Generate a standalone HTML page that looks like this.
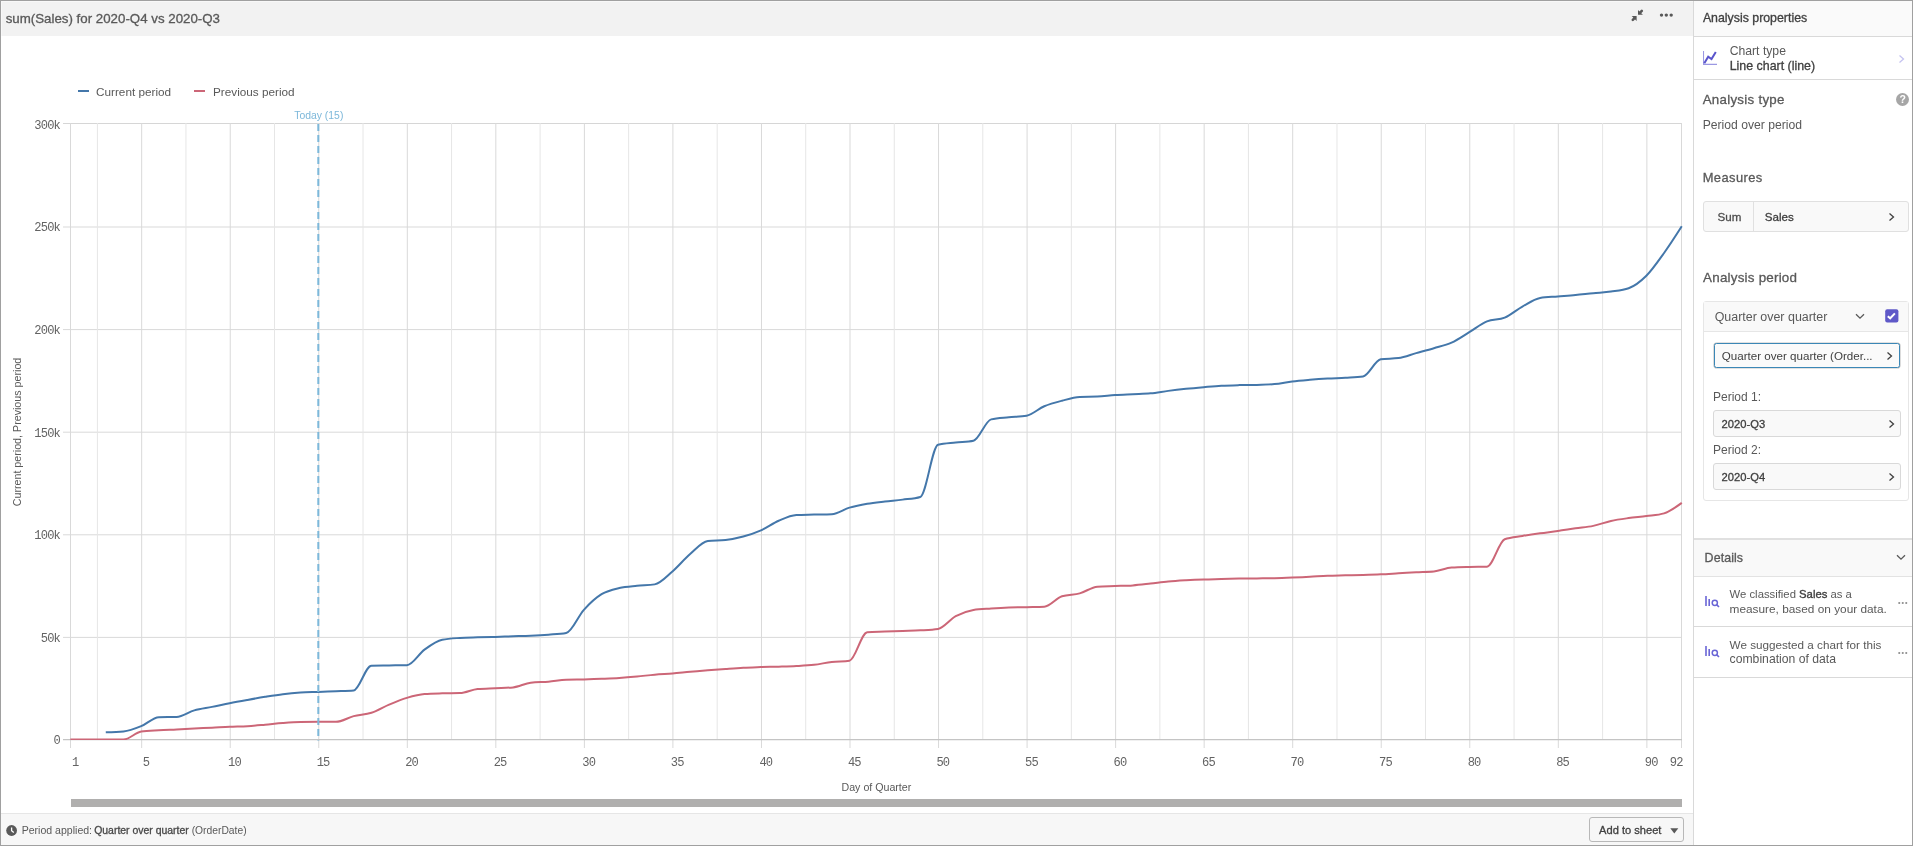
<!DOCTYPE html>
<html><head><meta charset="utf-8"><style>
*{box-sizing:border-box}
html,body{margin:0;padding:0;width:1913px;height:846px;overflow:hidden;background:#fff;font-family:"Liberation Sans",sans-serif;color:#595959}
.abs{position:absolute}
.frame{position:absolute;left:0;top:0;width:1913px;height:846px;border:1px solid #a0a0a0}
.ax{font-family:"Liberation Mono",monospace;font-size:12.1px;letter-spacing:-0.85px;fill:#636363}
.lg{font-family:"Liberation Sans",sans-serif;font-size:11.75px;fill:#595959}
.t{position:absolute;white-space:nowrap;line-height:1}
</style></head><body>
<div id="root" style="position:absolute;left:0;top:0;width:1913px;height:846px;will-change:transform;background:#fff">
<div class="abs" style="left:1px;top:1px;width:1692px;height:35px;background:#f2f2f2;box-shadow:inset 1px 1px 0 #f8f8f8"></div>
<div class="t" style="left:5.7px;top:11px;font-size:13.3px;line-height:15px;-webkit-text-stroke:0.3px currentColor;">sum(Sales) for 2020-Q4 vs 2020-Q3</div>
<svg class="abs" style="left:1628px;top:6px" width="20" height="18" viewBox="0 0 20 18"><path d="M10 3.9 L10 8.8 L14.9 8.8 Z" fill="#595959"/><path d="M11.8 6.9 L13.8 4.9" stroke="#595959" stroke-width="2.6" stroke-linecap="round"/><path d="M3.7 10 L8.6 10 L8.6 14.9 Z" fill="#595959"/><path d="M6.8 11.8 L4.8 13.8" stroke="#595959" stroke-width="2.6" stroke-linecap="round"/></svg><svg class="abs" style="left:1658px;top:12px" width="16" height="6" viewBox="0 0 16 6"><circle cx="3.5" cy="3.1" r="1.7" fill="#595959"/><circle cx="8.3" cy="3.1" r="1.7" fill="#595959"/><circle cx="13.2" cy="3.1" r="1.7" fill="#595959"/></svg>
<svg class="abs" style="left:0;top:0" width="1913" height="846" viewBox="0 0 1913 846">
<line x1="63" y1="637.40" x2="1682" y2="637.40" stroke="#d9d9d9"/>
<line x1="63" y1="534.80" x2="1682" y2="534.80" stroke="#d9d9d9"/>
<line x1="63" y1="432.20" x2="1682" y2="432.20" stroke="#d9d9d9"/>
<line x1="63" y1="329.60" x2="1682" y2="329.60" stroke="#d9d9d9"/>
<line x1="63" y1="227.00" x2="1682" y2="227.00" stroke="#d9d9d9"/>
<line x1="63" y1="123.50" x2="1682" y2="123.50" stroke="#d6d6d6"/>
<line x1="97.41" y1="123" x2="97.41" y2="739" stroke="#e6e6e6"/>
<line x1="185.95" y1="123" x2="185.95" y2="739" stroke="#e6e6e6"/>
<line x1="274.49" y1="123" x2="274.49" y2="739" stroke="#e6e6e6"/>
<line x1="363.03" y1="123" x2="363.03" y2="739" stroke="#e6e6e6"/>
<line x1="451.57" y1="123" x2="451.57" y2="739" stroke="#e6e6e6"/>
<line x1="540.11" y1="123" x2="540.11" y2="739" stroke="#e6e6e6"/>
<line x1="628.65" y1="123" x2="628.65" y2="739" stroke="#e6e6e6"/>
<line x1="717.19" y1="123" x2="717.19" y2="739" stroke="#e6e6e6"/>
<line x1="805.73" y1="123" x2="805.73" y2="739" stroke="#e6e6e6"/>
<line x1="894.27" y1="123" x2="894.27" y2="739" stroke="#e6e6e6"/>
<line x1="982.81" y1="123" x2="982.81" y2="739" stroke="#e6e6e6"/>
<line x1="1071.35" y1="123" x2="1071.35" y2="739" stroke="#e6e6e6"/>
<line x1="1159.89" y1="123" x2="1159.89" y2="739" stroke="#e6e6e6"/>
<line x1="1248.43" y1="123" x2="1248.43" y2="739" stroke="#e6e6e6"/>
<line x1="1336.97" y1="123" x2="1336.97" y2="739" stroke="#e6e6e6"/>
<line x1="1425.51" y1="123" x2="1425.51" y2="739" stroke="#e6e6e6"/>
<line x1="1514.05" y1="123" x2="1514.05" y2="739" stroke="#e6e6e6"/>
<line x1="1602.59" y1="123" x2="1602.59" y2="739" stroke="#e6e6e6"/>
<line x1="70.50" y1="123" x2="70.50" y2="748" stroke="#d9d9d9"/>
<line x1="141.68" y1="123" x2="141.68" y2="748" stroke="#d9d9d9"/>
<line x1="230.22" y1="123" x2="230.22" y2="748" stroke="#d9d9d9"/>
<line x1="318.76" y1="123" x2="318.76" y2="748" stroke="#d9d9d9"/>
<line x1="407.30" y1="123" x2="407.30" y2="748" stroke="#d9d9d9"/>
<line x1="495.84" y1="123" x2="495.84" y2="748" stroke="#d9d9d9"/>
<line x1="584.38" y1="123" x2="584.38" y2="748" stroke="#d9d9d9"/>
<line x1="672.92" y1="123" x2="672.92" y2="748" stroke="#d9d9d9"/>
<line x1="761.46" y1="123" x2="761.46" y2="748" stroke="#d9d9d9"/>
<line x1="850.00" y1="123" x2="850.00" y2="748" stroke="#d9d9d9"/>
<line x1="938.54" y1="123" x2="938.54" y2="748" stroke="#d9d9d9"/>
<line x1="1027.08" y1="123" x2="1027.08" y2="748" stroke="#d9d9d9"/>
<line x1="1115.62" y1="123" x2="1115.62" y2="748" stroke="#d9d9d9"/>
<line x1="1204.16" y1="123" x2="1204.16" y2="748" stroke="#d9d9d9"/>
<line x1="1292.70" y1="123" x2="1292.70" y2="748" stroke="#d9d9d9"/>
<line x1="1381.24" y1="123" x2="1381.24" y2="748" stroke="#d9d9d9"/>
<line x1="1469.78" y1="123" x2="1469.78" y2="748" stroke="#d9d9d9"/>
<line x1="1558.32" y1="123" x2="1558.32" y2="748" stroke="#d9d9d9"/>
<line x1="1646.86" y1="123" x2="1646.86" y2="748" stroke="#d9d9d9"/>
<line x1="1681.50" y1="123" x2="1681.50" y2="748" stroke="#d9d9d9"/>
<line x1="63" y1="739.6" x2="1682" y2="739.6" stroke="#c4c4c4" stroke-width="1.2"/>
<clipPath id="pc"><rect x="60" y="100" width="1630" height="640"/></clipPath>
<g clip-path="url(#pc)"><path d="M70.35,739.50C76.25,739.50,82.16,739.50,88.06,739.50C93.96,739.50,99.86,739.50,105.77,739.50C111.67,739.50,117.57,739.50,123.47,739.50C129.38,739.50,135.28,732.49,141.18,731.60C147.08,730.71,152.99,730.63,158.89,730.27C164.79,729.91,170.70,729.74,176.60,729.45C182.50,729.15,188.40,728.81,194.31,728.52C200.21,728.23,206.11,727.99,212.01,727.70C217.92,727.41,223.82,727.03,229.72,726.78C235.62,726.52,241.53,726.50,247.43,726.16C253.33,725.82,259.24,725.24,265.14,724.73C271.04,724.21,276.94,723.53,282.85,723.08C288.75,722.64,294.65,722.19,300.55,722.06C306.46,721.92,312.36,721.85,318.26,721.85C324.16,721.85,330.07,721.85,335.97,721.85C341.87,721.85,347.78,717.61,353.68,716.11C359.58,714.60,365.48,714.74,371.39,712.82C377.29,710.91,383.19,707.11,389.09,704.62C395.00,702.12,400.90,699.62,406.80,697.84C412.70,696.07,418.61,694.36,424.51,693.95C430.41,693.54,436.32,693.47,442.22,693.33C448.12,693.19,454.02,693.26,459.93,693.12C465.83,692.99,471.73,689.57,477.63,689.02C483.54,688.47,489.44,688.47,495.34,688.20C501.24,687.93,507.15,687.93,513.05,687.38C518.95,686.83,524.86,683.34,530.76,682.66C536.66,681.98,542.56,682.11,548.47,681.63C554.37,681.15,560.27,680.06,566.17,679.79C572.08,679.51,577.98,679.55,583.88,679.38C589.78,679.21,595.69,679.00,601.59,678.76C607.49,678.52,613.40,678.32,619.30,677.94C625.20,677.56,631.10,677.05,637.01,676.50C642.91,675.96,648.81,675.17,654.71,674.66C660.62,674.14,666.52,673.90,672.42,673.43C678.32,672.95,684.23,672.30,690.13,671.78C696.03,671.27,701.94,670.83,707.84,670.35C713.74,669.87,719.64,669.36,725.55,668.91C731.45,668.47,737.35,667.99,743.25,667.68C749.16,667.37,755.06,667.24,760.96,667.06C766.86,666.89,772.77,666.83,778.67,666.65C784.57,666.48,790.48,666.35,796.38,666.04C802.28,665.73,808.18,665.49,814.09,664.81C819.99,664.12,825.89,662.62,831.79,661.93C837.70,661.25,843.60,661.52,849.50,660.70C855.40,659.88,861.31,632.59,867.21,632.18C873.11,631.77,879.02,631.77,884.92,631.56C890.82,631.36,896.72,631.15,902.63,630.95C908.53,630.74,914.43,630.68,920.33,630.33C926.24,629.99,932.14,629.85,938.04,628.90C943.94,627.94,949.85,619.32,955.75,616.17C961.65,613.03,967.56,610.98,973.46,610.02C979.36,609.06,985.26,608.99,991.17,608.58C997.07,608.17,1002.97,607.80,1008.87,607.56C1014.78,607.32,1020.68,607.28,1026.58,607.15C1032.48,607.01,1038.39,607.01,1044.29,606.74C1050.19,606.46,1056.10,598.19,1062.00,596.27C1067.90,594.36,1073.80,595.00,1079.71,593.40C1085.61,591.79,1091.51,587.04,1097.41,586.63C1103.32,586.22,1109.22,586.22,1115.12,586.01C1121.02,585.81,1126.93,585.81,1132.83,585.39C1138.73,584.98,1144.64,584.20,1150.54,583.55C1156.44,582.90,1162.34,582.04,1168.25,581.50C1174.15,580.95,1180.05,580.61,1185.95,580.26C1191.86,579.92,1197.76,579.65,1203.66,579.44C1209.56,579.24,1215.47,579.17,1221.37,579.03C1227.27,578.90,1233.18,578.73,1239.08,578.62C1244.98,578.52,1250.88,578.49,1256.79,578.42C1262.69,578.35,1268.59,578.35,1274.49,578.21C1280.40,578.08,1286.30,577.84,1292.20,577.60C1298.10,577.36,1304.01,577.08,1309.91,576.78C1315.81,576.47,1321.72,575.99,1327.62,575.75C1333.52,575.51,1339.42,575.48,1345.33,575.34C1351.23,575.20,1357.13,575.10,1363.03,574.93C1368.94,574.76,1374.84,574.59,1380.74,574.31C1386.64,574.04,1392.55,573.63,1398.45,573.29C1404.35,572.95,1410.26,572.57,1416.16,572.26C1422.06,571.95,1427.96,571.99,1433.87,571.44C1439.77,570.89,1445.67,567.95,1451.57,567.54C1457.48,567.13,1463.38,567.06,1469.28,566.93C1475.18,566.79,1481.09,566.86,1486.99,566.72C1492.89,566.58,1498.80,541.41,1504.70,539.22C1510.60,537.04,1516.50,536.93,1522.41,535.94C1528.31,534.95,1534.21,534.09,1540.11,533.27C1546.02,532.45,1551.92,531.84,1557.82,531.02C1563.72,530.20,1569.63,529.20,1575.53,528.35C1581.43,527.49,1587.34,527.12,1593.24,525.89C1599.14,524.66,1605.04,522.26,1610.95,520.96C1616.85,519.66,1622.75,518.91,1628.65,518.09C1634.56,517.27,1640.46,516.82,1646.36,516.04C1652.26,515.25,1658.17,515.15,1664.07,513.37C1669.97,511.59,1675.88,507.25,1681.78,502.90" fill="none" stroke="#cc6677" stroke-width="2" stroke-linejoin="round"/>
<path d="M105.77,732.32C111.67,732.18,117.57,732.04,123.47,731.50C129.38,730.95,135.28,728.56,141.18,726.16C147.08,723.77,152.99,717.27,158.89,717.13C164.79,717.00,170.70,717.06,176.60,716.93C182.50,716.79,188.40,712.04,194.31,710.36C200.21,708.69,206.11,708.07,212.01,706.87C217.92,705.68,223.82,704.34,229.72,703.18C235.62,702.02,241.53,700.96,247.43,699.90C253.33,698.84,259.24,697.78,265.14,696.82C271.04,695.86,276.94,694.87,282.85,694.15C288.75,693.43,294.65,692.89,300.55,692.51C306.46,692.13,312.36,692.10,318.26,691.89C324.16,691.69,330.07,691.52,335.97,691.28C341.87,691.04,347.78,691.00,353.68,690.46C359.58,689.91,365.48,665.76,371.39,665.63C377.29,665.49,383.19,665.49,389.09,665.42C395.00,665.35,400.90,665.35,406.80,665.22C412.70,665.08,418.61,653.86,424.51,649.62C430.41,645.38,436.32,641.00,442.22,639.77C448.12,638.54,454.02,638.34,459.93,637.93C465.83,637.52,471.73,637.48,477.63,637.31C483.54,637.14,489.44,637.07,495.34,636.90C501.24,636.73,507.15,636.49,513.05,636.28C518.95,636.08,524.86,635.94,530.76,635.67C536.66,635.40,542.56,635.09,548.47,634.64C554.37,634.20,560.27,634.10,566.17,633.00C572.08,631.91,577.98,616.28,583.88,609.81C589.78,603.35,595.69,597.84,601.59,594.22C607.49,590.59,613.40,589.46,619.30,588.06C625.20,586.66,631.10,586.42,637.01,585.81C642.91,585.19,648.81,585.33,654.71,584.37C660.62,583.41,666.52,576.50,672.42,571.44C678.32,566.38,684.23,559.06,690.13,554.00C696.03,548.94,701.94,541.76,707.84,541.07C713.74,540.39,719.64,540.73,725.55,540.05C731.45,539.36,737.35,538.16,743.25,536.56C749.16,534.95,755.06,533.03,760.96,530.40C766.86,527.77,772.77,523.32,778.67,520.76C784.57,518.19,790.48,515.28,796.38,515.01C802.28,514.74,808.18,514.74,814.09,514.60C819.99,514.46,825.89,514.46,831.79,514.19C837.70,513.92,843.60,509.37,849.50,507.62C855.40,505.88,861.31,504.75,867.21,503.73C873.11,502.70,879.02,502.15,884.92,501.47C890.82,500.78,896.72,500.37,902.63,499.62C908.53,498.87,914.43,498.73,920.33,496.95C926.24,495.18,932.14,446.34,938.04,444.83C943.94,443.33,949.85,443.26,955.75,442.58C961.65,441.89,967.56,441.96,973.46,440.73C979.36,439.50,985.26,420.76,991.17,419.39C997.07,418.02,1002.97,417.95,1008.87,417.34C1014.78,416.72,1020.68,416.79,1026.58,415.69C1032.48,414.60,1038.39,408.75,1044.29,406.26C1050.19,403.76,1056.10,402.25,1062.00,400.71C1067.90,399.18,1073.80,397.29,1079.71,397.02C1085.61,396.75,1091.51,396.88,1097.41,396.61C1103.32,396.34,1109.22,395.38,1115.12,394.97C1121.02,394.56,1126.93,394.42,1132.83,394.15C1138.73,393.87,1144.64,393.87,1150.54,393.33C1156.44,392.78,1162.34,391.62,1168.25,390.87C1174.15,390.11,1180.05,389.43,1185.95,388.81C1191.86,388.20,1197.76,387.68,1203.66,387.17C1209.56,386.66,1215.47,386.08,1221.37,385.74C1227.27,385.39,1233.18,385.26,1239.08,385.12C1244.98,384.98,1250.88,385.05,1256.79,384.91C1262.69,384.78,1268.59,384.64,1274.49,384.09C1280.40,383.55,1286.30,382.14,1292.20,381.43C1298.10,380.71,1304.01,380.26,1309.91,379.78C1315.81,379.31,1321.72,378.90,1327.62,378.55C1333.52,378.21,1339.42,378.07,1345.33,377.73C1351.23,377.39,1357.13,377.32,1363.03,376.50C1368.94,375.68,1374.84,360.09,1380.74,359.26C1386.64,358.44,1392.55,358.85,1398.45,358.03C1404.35,357.21,1410.26,354.75,1416.16,353.11C1422.06,351.47,1427.96,349.93,1433.87,348.18C1439.77,346.44,1445.67,345.31,1451.57,342.64C1457.48,339.98,1463.38,335.73,1469.28,332.18C1475.18,328.62,1481.09,323.73,1486.99,321.30C1492.89,318.87,1498.80,320.07,1504.70,317.61C1510.60,315.15,1516.50,309.81,1522.41,306.53C1528.31,303.24,1534.21,298.87,1540.11,297.91C1546.02,296.95,1551.92,296.95,1557.82,296.47C1563.72,295.99,1569.63,295.58,1575.53,295.04C1581.43,294.49,1587.34,293.77,1593.24,293.19C1599.14,292.61,1605.04,292.37,1610.95,291.55C1616.85,290.73,1622.75,290.45,1628.65,288.27C1634.56,286.08,1640.46,281.63,1646.36,275.75C1652.26,269.87,1658.17,261.21,1664.07,252.97C1669.97,244.73,1675.88,235.51,1681.78,226.29" fill="none" stroke="#4477aa" stroke-width="2" stroke-linejoin="round"/></g>
<line x1="318.3" y1="124" x2="318.3" y2="740.5" stroke="#7db8da" stroke-width="2" stroke-dasharray="7 4"/>
<text x="60" y="744.4" text-anchor="end" class="ax">0</text>
<text x="60" y="641.8" text-anchor="end" class="ax">50k</text>
<text x="60" y="539.2" text-anchor="end" class="ax">100k</text>
<text x="60" y="436.6" text-anchor="end" class="ax">150k</text>
<text x="60" y="334.0" text-anchor="end" class="ax">200k</text>
<text x="60" y="231.4" text-anchor="end" class="ax">250k</text>
<text x="60" y="128.8" text-anchor="end" class="ax">300k</text>
<text x="75.1" y="765.8" text-anchor="middle" class="ax">1</text>
<text x="146.0" y="765.8" text-anchor="middle" class="ax">5</text>
<text x="234.5" y="765.8" text-anchor="middle" class="ax">10</text>
<text x="323.1" y="765.8" text-anchor="middle" class="ax">15</text>
<text x="411.6" y="765.8" text-anchor="middle" class="ax">20</text>
<text x="500.1" y="765.8" text-anchor="middle" class="ax">25</text>
<text x="588.7" y="765.8" text-anchor="middle" class="ax">30</text>
<text x="677.2" y="765.8" text-anchor="middle" class="ax">35</text>
<text x="765.8" y="765.8" text-anchor="middle" class="ax">40</text>
<text x="854.3" y="765.8" text-anchor="middle" class="ax">45</text>
<text x="942.8" y="765.8" text-anchor="middle" class="ax">50</text>
<text x="1031.4" y="765.8" text-anchor="middle" class="ax">55</text>
<text x="1119.9" y="765.8" text-anchor="middle" class="ax">60</text>
<text x="1208.5" y="765.8" text-anchor="middle" class="ax">65</text>
<text x="1297.0" y="765.8" text-anchor="middle" class="ax">70</text>
<text x="1385.5" y="765.8" text-anchor="middle" class="ax">75</text>
<text x="1474.1" y="765.8" text-anchor="middle" class="ax">80</text>
<text x="1562.6" y="765.8" text-anchor="middle" class="ax">85</text>
<text x="1651.2" y="765.8" text-anchor="middle" class="ax">90</text>
<text x="1682.6" y="765.8" text-anchor="end" class="ax">92</text>
<rect x="78" y="90" width="11" height="2" fill="#4477aa"/>
<rect x="194" y="90" width="11" height="2" fill="#cc6677"/>
<text x="96" y="96" class="lg">Current period</text>
<text x="213" y="96" class="lg">Previous period</text>
<text x="318.8" y="119.2" text-anchor="middle" class="lg" style="fill:#7db8da;font-size:10.4px">Today (15)</text>
<text x="876.4" y="790.6" text-anchor="middle" class="lg" style="font-size:10.65px">Day of Quarter</text>
<text transform="translate(21,432) rotate(-90)" text-anchor="middle" class="lg" style="font-size:10.7px">Current period, Previous period</text>
</svg>
<div class="abs" style="left:71px;top:799px;width:1611px;height:8px;background:#b0afae"></div>
<div class="abs" style="left:1px;top:813px;width:1692px;height:32px;background:#f7f7f7;border-top:1px solid #e6e6e6"></div>
<svg class="abs" style="left:6px;top:825px" width="12" height="12" viewBox="0 0 12 12"><circle cx="5.6" cy="5.5" r="5.4" fill="#595959"/><path d="M5.6 2.4 V5.8 L7.8 7.6" fill="none" stroke="#fff" stroke-width="1.3"/></svg><div class="t" style="left:21.7px;top:824px;font-size:10.55px;line-height:12px;">Period applied:</div><div class="t" style="left:94.2px;top:825px;font-size:10.45px;line-height:11px;-webkit-text-stroke:0.3px currentColor;color:#484848;">Quarter over quarter <span style="-webkit-text-stroke:0;color:#595959;font-size:10.3px">(OrderDate)</span></div><div class="abs" style="left:1589px;top:817px;width:95px;height:25px;background:#f7f7f7;border:1px solid #b8b8b8;border-radius:3px"></div><div class="t" style="left:1599.1px;top:824px;font-size:11.1px;line-height:12px;-webkit-text-stroke:0.3px currentColor;color:#404040;">Add to sheet</div><svg class="abs" style="left:1669.5px;top:827.5px" width="9" height="6" viewBox="0 0 9 6"><path d="M0.3 0.3 H8.3 L4.3 5.5 Z" fill="#595959"/></svg>
<div class="abs" style="left:1693px;top:1px;width:1px;height:844px;background:#d9d9d9"></div>
<div class="abs" style="left:1694px;top:1px;width:218px;height:36px;background:#fafafa;border-bottom:1px solid #d9d9d9"></div><div class="t" style="left:1702.9px;top:11px;font-size:12.35px;line-height:14px;-webkit-text-stroke:0.3px currentColor;color:#404040;">Analysis properties</div><div class="abs" style="left:1694px;top:79px;width:218px;height:1px;background:#d9d9d9"></div><svg class="abs" style="left:1703px;top:50px" width="16" height="16" viewBox="0 0 16 16"><path d="M0.5 1 V14.4 H14" fill="none" stroke="#9b98e2" stroke-width="1.1"/><path d="M1.3 13.2 L5.2 6.7 L8.5 9.1 L12.8 1.9" fill="none" stroke="#5a55cc" stroke-width="2" stroke-linejoin="miter"/></svg><div class="t" style="left:1729.7px;top:44px;font-size:12.2px;line-height:14px;">Chart type</div><div class="t" style="left:1729.7px;top:59px;font-size:12.4px;line-height:14px;-webkit-text-stroke:0.3px currentColor;color:#404040;">Line chart (line)</div><svg class="abs" style="left:1898px;top:54px" width="8" height="10" viewBox="0 0 8 10"><path d="M1.5 1.5 L5.5 5 L1.5 8.5" fill="none" stroke="#c5c3f0" stroke-width="1.3"/></svg><div class="t" style="left:1702.7px;top:92px;font-size:13.3px;line-height:15px;-webkit-text-stroke:0.3px currentColor;letter-spacing:0.28px;">Analysis type</div><div class="abs" style="left:1896.1px;top:93px;width:13.2px;height:13.2px;border-radius:50%;background:#a6a6a6;color:#fff;font-size:10.5px;font-weight:bold;line-height:13px;text-align:center">?</div><div class="t" style="left:1702.7px;top:118px;font-size:12.15px;line-height:14px;">Period over period</div><div class="t" style="left:1702.7px;top:170px;font-size:12.9px;line-height:15px;-webkit-text-stroke:0.3px currentColor;letter-spacing:0.42px;">Measures</div><div class="abs" style="left:1703px;top:201px;width:206px;height:31px;background:#f9f9f9;border:1px solid #e0e0e0;border-radius:3px"></div><div class="abs" style="left:1753px;top:202px;width:1px;height:29px;background:#e0e0e0"></div><div class="t" style="left:1717.5px;top:211px;font-size:11.6px;line-height:12px;-webkit-text-stroke:0.3px currentColor;color:#4d4d4d;">Sum</div><div class="t" style="left:1764.8px;top:211px;font-size:11.6px;line-height:12px;-webkit-text-stroke:0.3px currentColor;color:#404040;">Sales</div><svg class="abs" style="left:1888px;top:212px" width="8" height="10" viewBox="0 0 8 10"><path d="M1.5 1.5 L5.5 5 L1.5 8.5" fill="none" stroke="#404040" stroke-width="1.3"/></svg><div class="t" style="left:1703.1px;top:270px;font-size:13.4px;line-height:15px;-webkit-text-stroke:0.3px currentColor;letter-spacing:0.22px;">Analysis period</div><div class="abs" style="left:1703px;top:301px;width:206px;height:200px;border:1px solid #e6e6e6;border-radius:3px"></div><div class="abs" style="left:1704px;top:302px;width:204px;height:30px;background:#f9f9f9;border-bottom:1px solid #e6e6e6"></div><div class="t" style="left:1714.7px;top:310px;font-size:12.45px;line-height:14px;">Quarter over quarter</div><svg class="abs" style="left:1855.4px;top:312.6px" width="10" height="7" viewBox="0 0 10 7"><path d="M1 1.2 L5 5.2 L9 1.2" fill="none" stroke="#595959" stroke-width="1.3"/></svg><svg class="abs" style="left:1885px;top:309px" width="14" height="14" viewBox="0 0 14 14"><rect x="0.2" y="0.2" width="13.2" height="13.2" rx="2" fill="#5f59c8"/><path d="M2.8 7.2 L5.2 9.3 L9.9 4.4" fill="none" stroke="#fff" stroke-width="2"/></svg><div class="abs" style="left:1714px;top:343px;width:186px;height:25px;background:#fafafa;border:1px solid #3b87b6;border-radius:2.5px;box-shadow:0 0 0 0.6px #c4c4c4"></div><div class="t" style="left:1721.8px;top:350px;font-size:11.6px;line-height:12px;color:#404040;">Quarter over quarter (Order...</div><svg class="abs" style="left:1886px;top:351px" width="8" height="10" viewBox="0 0 8 10"><path d="M1.5 1.5 L5.5 5 L1.5 8.5" fill="none" stroke="#404040" stroke-width="1.3"/></svg><div class="t" style="left:1713.0px;top:390px;font-size:12.0px;line-height:14px;">Period 1:</div><div class="abs" style="left:1713px;top:410px;width:188px;height:27px;background:#f9f9f9;border:1px solid #d9d9d9;border-radius:3px"></div><div class="t" style="left:1721.6px;top:418px;font-size:11.2px;line-height:12px;-webkit-text-stroke:0.3px currentColor;color:#404040;">2020-Q3</div><svg class="abs" style="left:1888px;top:419px" width="8" height="10" viewBox="0 0 8 10"><path d="M1.5 1.5 L5.5 5 L1.5 8.5" fill="none" stroke="#404040" stroke-width="1.3"/></svg><div class="t" style="left:1713.0px;top:443px;font-size:12.0px;line-height:14px;">Period 2:</div><div class="abs" style="left:1713px;top:463px;width:188px;height:27px;background:#f9f9f9;border:1px solid #d9d9d9;border-radius:3px"></div><div class="t" style="left:1721.6px;top:471px;font-size:11.2px;line-height:12px;-webkit-text-stroke:0.3px currentColor;color:#404040;">2020-Q4</div><svg class="abs" style="left:1888px;top:472px" width="8" height="10" viewBox="0 0 8 10"><path d="M1.5 1.5 L5.5 5 L1.5 8.5" fill="none" stroke="#404040" stroke-width="1.3"/></svg><div class="abs" style="left:1694px;top:538px;width:218px;height:39px;background:#f9f9f9;border-top:2px solid #e0e0e0;border-bottom:1px solid #e3e3e3"></div><div class="t" style="left:1704.6px;top:551px;font-size:12.4px;line-height:14px;-webkit-text-stroke:0.3px currentColor;letter-spacing:0.1px;">Details</div><svg class="abs" style="left:1895.6px;top:553.8px" width="10" height="7" viewBox="0 0 10 7"><path d="M1 1.2 L5 5.2 L9 1.2" fill="none" stroke="#595959" stroke-width="1.3"/></svg><svg class="abs" style="left:1704.5px;top:595.5px" width="16" height="12" viewBox="0 0 16 12"><rect x="0.2" y="0" width="1.6" height="10" fill="#6a66d6"/><rect x="3.4" y="3" width="1.6" height="7" fill="#6a66d6"/><circle cx="9.8" cy="6.8" r="2.6" fill="none" stroke="#6a66d6" stroke-width="1.5"/><path d="M11.6 8.6 L14 11" stroke="#6a66d6" stroke-width="1.6"/></svg><div class="t" style="left:1729.6px;top:588px;font-size:11.3px;line-height:12px;">We classified <span style="-webkit-text-stroke:0.35px currentColor;color:#404040">Sales</span> as a</div><div class="t" style="left:1729.6px;top:602px;font-size:11.83px;line-height:14px;">measure, based on your data.</div><svg class="abs" style="left:1897.8px;top:600px" width="16" height="6" viewBox="0 0 16 6"><circle cx="1.25" cy="3" r="1.05" fill="#8c8c8c"/><circle cx="4.75" cy="3" r="1.05" fill="#8c8c8c"/><circle cx="8.25" cy="3" r="1.05" fill="#8c8c8c"/></svg><div class="abs" style="left:1694px;top:626px;width:218px;height:1px;background:#d9d9d9"></div><svg class="abs" style="left:1704.5px;top:645.5px" width="16" height="12" viewBox="0 0 16 12"><rect x="0.2" y="0" width="1.6" height="10" fill="#6a66d6"/><rect x="3.4" y="3" width="1.6" height="7" fill="#6a66d6"/><circle cx="9.8" cy="6.8" r="2.6" fill="none" stroke="#6a66d6" stroke-width="1.5"/><path d="M11.6 8.6 L14 11" stroke="#6a66d6" stroke-width="1.6"/></svg><div class="t" style="left:1729.6px;top:638px;font-size:11.7px;line-height:13px;">We suggested a chart for this</div><div class="t" style="left:1729.6px;top:652px;font-size:12.2px;line-height:14px;">combination of data</div><svg class="abs" style="left:1897.6px;top:650px" width="16" height="6" viewBox="0 0 16 6"><circle cx="1.25" cy="3" r="1.05" fill="#8c8c8c"/><circle cx="4.75" cy="3" r="1.05" fill="#8c8c8c"/><circle cx="8.25" cy="3" r="1.05" fill="#8c8c8c"/></svg><div class="abs" style="left:1694px;top:677px;width:218px;height:1px;background:#d9d9d9"></div>
<div class="frame"></div>
</div>
</body></html>
